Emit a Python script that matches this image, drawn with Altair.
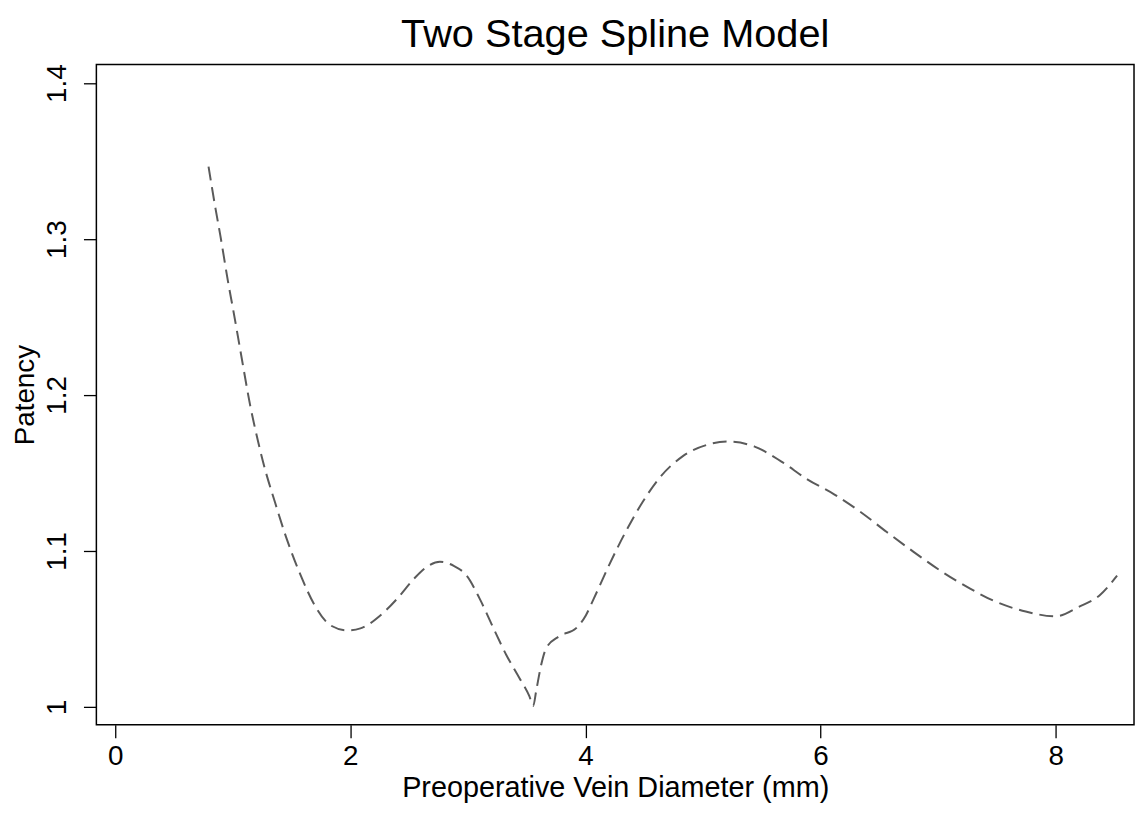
import altair as alt
import pandas as pd

# Curve
diameter = [0.794, 0.853, 0.895, 0.963, 1.005, 1.073, 1.149, 1.216, 1.258, 1.360,
            1.453, 1.579, 1.698, 1.833, 1.976, 2.086, 2.255, 2.399, 2.542, 2.652,
            2.762, 2.880, 2.990, 3.100, 3.218, 3.328, 3.438, 3.522, 3.556, 3.581,
            3.623, 3.666, 3.775, 3.919, 4.003, 4.071, 4.198, 4.341, 4.485, 4.620,
            4.823, 5.042, 5.211, 5.439, 5.667, 5.887, 6.115, 6.343, 6.563, 6.791,
            7.019, 7.272, 7.466, 7.745, 7.998, 8.201, 8.370, 8.522]
patency = [1.3465, 1.3197, 1.3020, 1.2713, 1.2541, 1.2250, 1.1930, 1.1700, 1.1570, 1.1310,
           1.1090, 1.0841, 1.0650, 1.0522, 1.0490, 1.0503, 1.0586, 1.0694, 1.0822, 1.0898,
           1.0930, 1.0904, 1.0841, 1.0694, 1.0503, 1.0331, 1.0185, 1.0070, 1.0006, 1.0102,
           1.0268, 1.0376, 1.0452, 1.0503, 1.0586, 1.0694, 1.0904, 1.1121, 1.1312, 1.1459,
           1.1605, 1.1682, 1.1701, 1.1669, 1.1573, 1.1459, 1.1363, 1.1248, 1.1121, 1.0994,
           1.0873, 1.0758, 1.0682, 1.0611, 1.0580, 1.0643, 1.0713, 1.0841]

x_ticks = [0, 2, 4, 6, 8]
y_ticks = [1.0, 1.1, 1.2, 1.3, 1.4]

df = pd.DataFrame({"diameter": diameter, "patency": patency})

FONT = "Liberation Sans"

chart = alt.Chart(df).mark_line(
    color="#5a5a5a", strokeWidth=2, strokeDash=[14, 7], interpolate="monotone"
).encode(
    x=alt.X("diameter:Q",
            scale=alt.Scale(domain=[-0.16, 8.666], nice=False, zero=False),
            axis=alt.Axis(values=x_ticks, title="Preoperative Vein Diameter (mm)",
                          grid=False, domain=False, tickSize=13, tickWidth=1.3,
                          tickColor="black", labelFontSize=28, labelColor="black",
                          labelFont=FONT, labelPadding=5, titleFont=FONT,
                          titleFontSize=29, titleFontWeight="normal",
                          titleColor="black", titlePadding=3, format="~g")),
    y=alt.Y("patency:Q",
            scale=alt.Scale(domain=[0.9885, 1.412], nice=False, zero=False),
            axis=alt.Axis(values=y_ticks, title="Patency", grid=False, domain=False,
                          tickSize=13, tickWidth=1.3, tickColor="black",
                          labelAngle=-90, labelAlign="center", labelBaseline="bottom",
                          labelFontSize=28, labelColor="black", labelFont=FONT,
                          labelPadding=12, titleFont=FONT, titleFontSize=28,
                          titleFontWeight="normal", titleColor="black",
                          titlePadding=4, format="~g")),
).properties(
    width=1045,
    height=665,
    background="white",
    title=alt.TitleParams("Two Stage Spline Model", font=FONT, fontSize=40,
                          fontWeight="normal", color="black", anchor="middle",
                          offset=9),
    autosize=alt.AutoSizeParams(type="none"),
    padding={"left": 89, "top": 54, "right": 2, "bottom": 80},
).configure_view(
    stroke="black", strokeWidth=1.5
)

chart.save("out.html", embed_options={"renderer": "svg", "actions": False})
